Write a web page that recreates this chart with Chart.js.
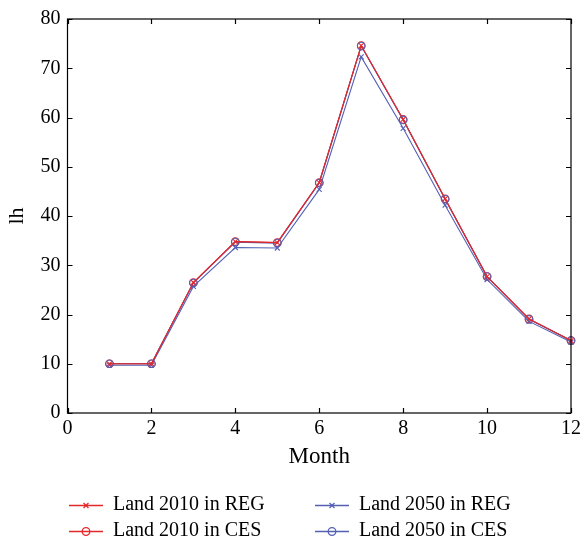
<!DOCTYPE html>
<html>
<head>
<meta charset="utf-8">
<script src="https://cdn.jsdelivr.net/npm/chart.js@4/dist/chart.umd.min.js"></script>
<style>
  html, body { margin: 0; padding: 0; background: #fff; }
  #wrap { width: 587px; height: 543px; }
</style>
</head>
<body>
<div id="wrap"><canvas id="c" width="587" height="543"></canvas></div>
<script>
// Monthly lh values for land, 2010 vs 2050, REG vs CES
const months = [1, 2, 3, 4, 5, 6, 7, 8, 9, 10, 11, 12];
const land2010REG = [10.0, 10.0, 26.5, 34.8, 34.6, 46.8, 74.6, 59.6, 43.5, 27.7, 19.1, 14.7];
const land2010CES = [10.0, 10.0, 26.5, 34.8, 34.6, 46.8, 74.6, 59.6, 43.5, 27.7, 19.1, 14.7];
const land2050REG = [9.7, 9.7, 25.7, 33.6, 33.5, 45.4, 72.3, 57.8, 42.2, 27.1, 18.6, 14.4];
const land2050CES = [10.0, 10.0, 26.4, 34.7, 34.5, 46.7, 74.5, 59.5, 43.4, 27.7, 19.0, 14.7];
const xTicks = [0, 2, 4, 6, 8, 10, 12];
const yTicks = [0, 10, 20, 30, 40, 50, 60, 70, 80];

const RED = '#e3282b';
const BLUE = '#5460b4';
const FONT = "'Liberation Serif', 'Times New Roman', serif";

const pts = vals => months.map((m, i) => ({ x: m, y: vals[i] }));

function series(label, vals, color, style, radius, legendCol, legendRow) {
  return {
    label, data: pts(vals),
    borderColor: color, backgroundColor: 'rgba(0,0,0,0)',
    borderWidth: 1.1, pointStyle: style, pointRadius: radius,
    pointBorderColor: color, pointBorderWidth: 1.1,
    pointBackgroundColor: 'rgba(0,0,0,0)',
    pointHoverRadius: radius, tension: 0, clip: false,
    legendCol, legendRow
  };
}

// Box frame with inward ticks on all four sides
const framePlugin = {
  id: 'frame',
  afterDatasetsDraw(chart) {
    const { ctx, chartArea: a, scales: { x, y } } = chart;
    ctx.save();
    ctx.strokeStyle = '#000';
    ctx.lineWidth = 1.2;
    ctx.strokeRect(a.left, a.top, a.right - a.left, a.bottom - a.top);
    const L = 5;
    ctx.beginPath();
    xTicks.forEach(v => {
      const px = Math.round(x.getPixelForValue(v)) + 0.5;
      ctx.moveTo(px, a.bottom); ctx.lineTo(px, a.bottom - L);
      ctx.moveTo(px, a.top); ctx.lineTo(px, a.top + L);
    });
    yTicks.forEach(v => {
      const py = Math.round(y.getPixelForValue(v)) + 0.5;
      ctx.moveTo(a.left, py); ctx.lineTo(a.left + L, py);
      ctx.moveTo(a.right, py); ctx.lineTo(a.right - L, py);
    });
    ctx.stroke();
    ctx.restore();
  }
};

// Two-column legend under the axes
const legendPlugin = {
  id: 'twoColLegend',
  afterDraw(chart) {
    const { ctx } = chart;
    const colX = [69, 315];
    const rowY = [505, 531];
    ctx.save();
    ctx.font = '20px ' + FONT;
    ctx.textBaseline = 'middle';
    ctx.textAlign = 'left';
    chart.data.datasets.forEach(ds => {
      const x0 = colX[ds.legendCol], yy = rowY[ds.legendRow];
      ctx.strokeStyle = ds.borderColor;
      ctx.lineWidth = 1.3;
      ctx.beginPath();
      ctx.moveTo(x0, yy + 0.5); ctx.lineTo(x0 + 34, yy + 0.5);
      ctx.stroke();
      ctx.fillStyle = 'rgba(0,0,0,0)';
      Chart.helpers.drawPoint(ctx, {
        pointStyle: ds.pointStyle, radius: ds.pointRadius, rotation: 0,
        borderWidth: 1.3
      }, x0 + 17, yy + 0.5);
      ctx.fillStyle = '#000';
      ctx.fillText(ds.label, x0 + 44, yy);
    });
    ctx.restore();
  }
};

new Chart(document.getElementById('c'), {
  type: 'line',
  data: {
    datasets: [
      series('Land 2010 in REG', land2010REG, RED, 'crossRot', 3.5, 0, 0),
      series('Land 2050 in CES', land2050CES, BLUE, 'circle', 3.8, 1, 1),
      series('Land 2010 in CES', land2010CES, RED, 'circle', 3.8, 0, 1),
      series('Land 2050 in REG', land2050REG, BLUE, 'crossRot', 3.5, 1, 0)
    ]
  },
  options: {
    responsive: false,
    animation: false,
    events: [],
    layout: { padding: { left: 0, right: 16, top: 17, bottom: 70 } },
    plugins: { legend: { display: false }, tooltip: { enabled: false } },
    scales: {
      x: {
        type: 'linear', min: 0, max: 12,
        afterBuildTicks: s => { s.ticks = xTicks.map(v => ({ value: v })); },
        afterFit: s => { s.height = 60; },
        grid: { display: false, drawTicks: false },
        border: { display: false },
        ticks: { color: '#000', padding: 4, font: { family: FONT, size: 20 }, maxRotation: 0 },
        title: { display: true, text: 'Month', color: '#000', font: { family: FONT, size: 23 }, padding: { top: 0, bottom: 2.5 } }
      },
      y: {
        type: 'linear', min: 0, max: 80,
        afterBuildTicks: s => { s.ticks = yTicks.map(v => ({ value: v })); },
        afterFit: s => { s.width = 67.5; },
        grid: { display: false, drawTicks: false },
        border: { display: false },
        ticks: { color: '#000', padding: 7, font: { family: FONT, size: 20 } },
        title: { display: true, text: 'lh', color: '#000', font: { family: FONT, size: 22 }, padding: { top: 4, bottom: 0 } }
      }
    }
  },
  plugins: [framePlugin, legendPlugin]
});
</script>
</body>
</html>
